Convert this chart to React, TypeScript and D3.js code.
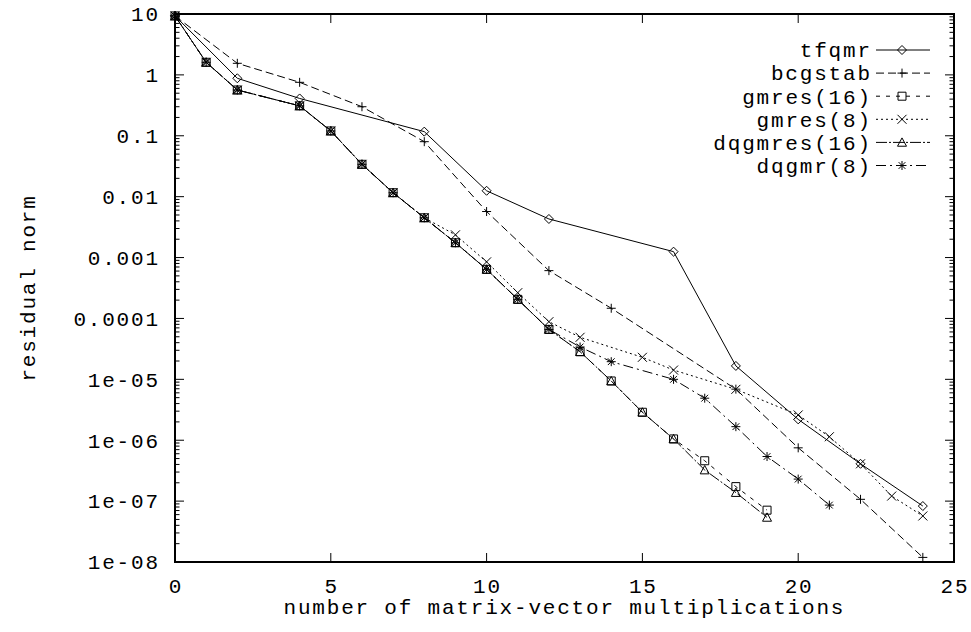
import React from "react";
import * as d3 from "d3";

const seriesNames = ["tfqmr", "bcgstab", "gmres(16)", "gmres(8)", "dqgmres(16)", "dqgmr(8)"];

const itTfqmr = [0, 2, 4, 8, 10, 12, 16, 18, 20, 22, 24];
const resTfqmr = [9.3, 0.88, 0.41, 0.117, 0.0125, 0.0043, 0.00125, 1.66e-5, 2.2e-6, 4.1e-7, 8.3e-8];

const itBcgstab = [0, 2, 4, 6, 8, 10, 12, 14, 18, 20, 22, 24];
const resBcgstab = [9.3, 1.55, 0.755, 0.3, 0.08, 0.0057, 6.1e-4, 1.47e-4, 6.9e-6, 7.5e-7, 1.07e-7, 1.19e-8];

const itGmres16 = [0, 1, 2, 4, 5, 6, 7, 8, 9, 10, 11, 12, 13, 14, 15, 16, 17, 18, 19];
const resGmres16 = [9.3, 1.61, 0.565, 0.31, 0.12, 0.034, 0.0116, 0.0045, 0.00175, 6.4e-4, 2.06e-4, 6.6e-5, 2.84e-5, 9.4e-6, 2.88e-6, 1.05e-6, 4.6e-7, 1.73e-7, 7.1e-8];

const itGmres8 = [0, 1, 2, 4, 5, 6, 7, 8, 9, 10, 11, 12, 13, 15, 16, 18, 20, 21, 22, 23, 24];
const resGmres8 = [9.3, 1.61, 0.565, 0.31, 0.12, 0.034, 0.0116, 0.0045, 0.00236, 8.5e-4, 2.65e-4, 8.85e-5, 4.9e-5, 2.3e-5, 1.42e-5, 6.85e-6, 2.6e-6, 1.14e-6, 4.1e-7, 1.21e-7, 5.7e-8];

const itDqgmres16 = [0, 1, 2, 4, 5, 6, 7, 8, 9, 10, 11, 12, 13, 14, 15, 16, 17, 18, 19];
const resDqgmres16 = [9.3, 1.61, 0.565, 0.31, 0.12, 0.034, 0.0116, 0.0045, 0.00175, 6.4e-4, 2.06e-4, 6.6e-5, 2.84e-5, 9.4e-6, 2.88e-6, 1.05e-6, 3.24e-7, 1.38e-7, 5.4e-8];

const itDqgmr8 = [0, 1, 2, 4, 5, 6, 7, 8, 9, 10, 11, 12, 13, 14, 16, 17, 18, 19, 20, 21];
const resDqgmr8 = [9.3, 1.61, 0.565, 0.31, 0.12, 0.034, 0.0116, 0.0045, 0.00175, 6.4e-4, 2.06e-4, 6.6e-5, 3.4e-5, 1.95e-5, 1.0e-5, 4.9e-6, 1.67e-6, 5.4e-7, 2.3e-7, 8.6e-8];

const xTicks = [0, 5, 10, 15, 20, 25];
const yTicks = [10, 1, 0.1, 0.01, 0.001, 0.0001, 1e-5, 1e-6, 1e-7, 1e-8];
const yTickLabels = ["10", "1", "0.1", "0.01", "0.001", "0.0001", "1e-05", "1e-06", "1e-07", "1e-08"];

const xTitle = "number of matrix-vector multiplications";
const yTitle = "residual norm";

const W = 971, H = 632;
const L = 175, R = 954, T = 14, B = 562;
const FONT = "'Liberation Mono', 'DejaVu Sans Mono', monospace";
const FS = 21;
const LS = 1.8;

const styles = [
  { dash: "none", marker: "diamond" },
  { dash: "8,4", marker: "plus" },
  { dash: "4,6", marker: "square" },
  { dash: "2,3", marker: "cross" },
  { dash: "11,2,2,2", marker: "triangle" },
  { dash: "10,4,2,4", marker: "star" },
];

function markerPath(type: string): string {
  const s = 4.5;
  switch (type) {
    case "diamond":
      return `M0,${-s}L${s},0L0,${s}L${-s},0Z`;
    case "plus":
      return `M${-s},0H${s}M0,${-s}V${s}`;
    case "square":
      return `M-4,-4H4V4H-4Z`;
    case "cross":
      return `M${-s},${-s}L${s},${s}M${-s},${s}L${s},${-s}`;
    case "triangle":
      return `M0,${-s}L${s},${s * 0.85}L${-s},${s * 0.85}Z`;
    case "star":
      return `M${-s},0H${s}M0,${-s}V${s}M${-s * 0.75},${-s * 0.75}L${s * 0.75},${s * 0.75}M${-s * 0.75},${s * 0.75}L${s * 0.75},${-s * 0.75}`;
  }
  return "";
}

export default function App() {
  const x = d3.scaleLinear().domain([0, 25]).range([L, R]);
  const y = d3.scaleLog().domain([1e-8, 10]).range([B, T]);

  const data = [
    [itTfqmr, resTfqmr],
    [itBcgstab, resBcgstab],
    [itGmres16, resGmres16],
    [itGmres8, resGmres8],
    [itDqgmres16, resDqgmres16],
    [itDqgmr8, resDqgmr8],
  ];

  const line = d3
    .line<[number, number]>()
    .x((d) => x(d[0]))
    .y((d) => y(d[1]));

  const minor: number[] = [];
  for (let e = -8; e < 1; e++) {
    for (let k = 2; k <= 9; k++) minor.push(k * Math.pow(10, e));
  }

  const legendY0 = 50;
  const legendDy = 23.1;

  return (
    <svg
      width={W}
      height={H}
      style={{ position: "absolute", left: 0, top: 0, background: "#fff" }}
      fontFamily={FONT}
      letterSpacing={LS}
    >
      <rect x={0} y={0} width={W} height={H} fill="#fff" />
      {/* minor ticks */}
      {minor.map((v, i) => (
        <g key={"m" + i} stroke="#000" strokeWidth={1}>
          <line x1={L} x2={L + 4.5} y1={y(v)} y2={y(v)} />
          <line x1={R} x2={R - 4.5} y1={y(v)} y2={y(v)} />
        </g>
      ))}
      {/* major y ticks */}
      {yTicks.map((v, i) => (
        <g key={"y" + i}>
          <line x1={L} x2={L + 9} y1={y(v)} y2={y(v)} stroke="#000" strokeWidth={1} />
          <line x1={R} x2={R - 9} y1={y(v)} y2={y(v)} stroke="#000" strokeWidth={1} />
          <text x={L - 17 + LS} y={y(v)} dy="0.35em" textAnchor="end" fontSize={FS} fill="#000">
            {yTickLabels[i]}
          </text>
        </g>
      ))}
      {/* x ticks */}
      {xTicks.map((v, i) => (
        <g key={"x" + i}>
          <line x1={x(v)} x2={x(v)} y1={B} y2={B - 9} stroke="#000" strokeWidth={1} />
          <line x1={x(v)} x2={x(v)} y1={T} y2={T + 9} stroke="#000" strokeWidth={1} />
          <text x={x(v) + LS / 2} y={593} textAnchor="middle" fontSize={FS} fill="#000">
            {String(v)}
          </text>
        </g>
      ))}
      {/* frame */}
      <rect x={L} y={T} width={R - L} height={B - T} fill="none" stroke="#000" strokeWidth={2} />
      {/* titles */}
      <text x={(L + R) / 2 - 1 + LS / 2} y={614} textAnchor="middle" fontSize={FS} fill="#000">
        {xTitle}
      </text>
      <text
        transform={`translate(28,${(T + B) / 2}) rotate(-90)`}
        dy="0.35em"
        textAnchor="middle"
        fontSize={FS}
        fill="#000"
      >
        {yTitle}
      </text>
      {/* series */}
      {data.map(([its, res], si) => {
        const pts: [number, number][] = its.map((v, j) => [v, res[j]]);
        const st = styles[si];
        return (
          <g key={"s" + si}>
            <path
              d={line(pts) || ""}
              fill="none"
              stroke="#000"
              strokeWidth={1}
              strokeDasharray={st.dash}
            />
            {pts.map((p, j) => (
              <path
                key={j}
                transform={`translate(${x(p[0])},${y(p[1])})`}
                d={markerPath(st.marker)}
                fill="none"
                stroke="#000"
                strokeWidth={1}
              />
            ))}
          </g>
        );
      })}
      {/* legend */}
      {seriesNames.map((name, i) => {
        const ly = legendY0 + legendDy * i;
        const st = styles[i];
        return (
          <g key={"l" + i}>
            <text x={870 + LS} y={ly} dy="0.35em" textAnchor="end" fontSize={FS} fill="#000">
              {name}
            </text>
            <line x1={876} x2={930} y1={ly} y2={ly} stroke="#000" strokeWidth={1} strokeDasharray={st.dash} />
            <path transform={`translate(902,${ly})`} d={markerPath(st.marker)} fill="none" stroke="#000" strokeWidth={1} />
          </g>
        );
      })}
    </svg>
  );
}
